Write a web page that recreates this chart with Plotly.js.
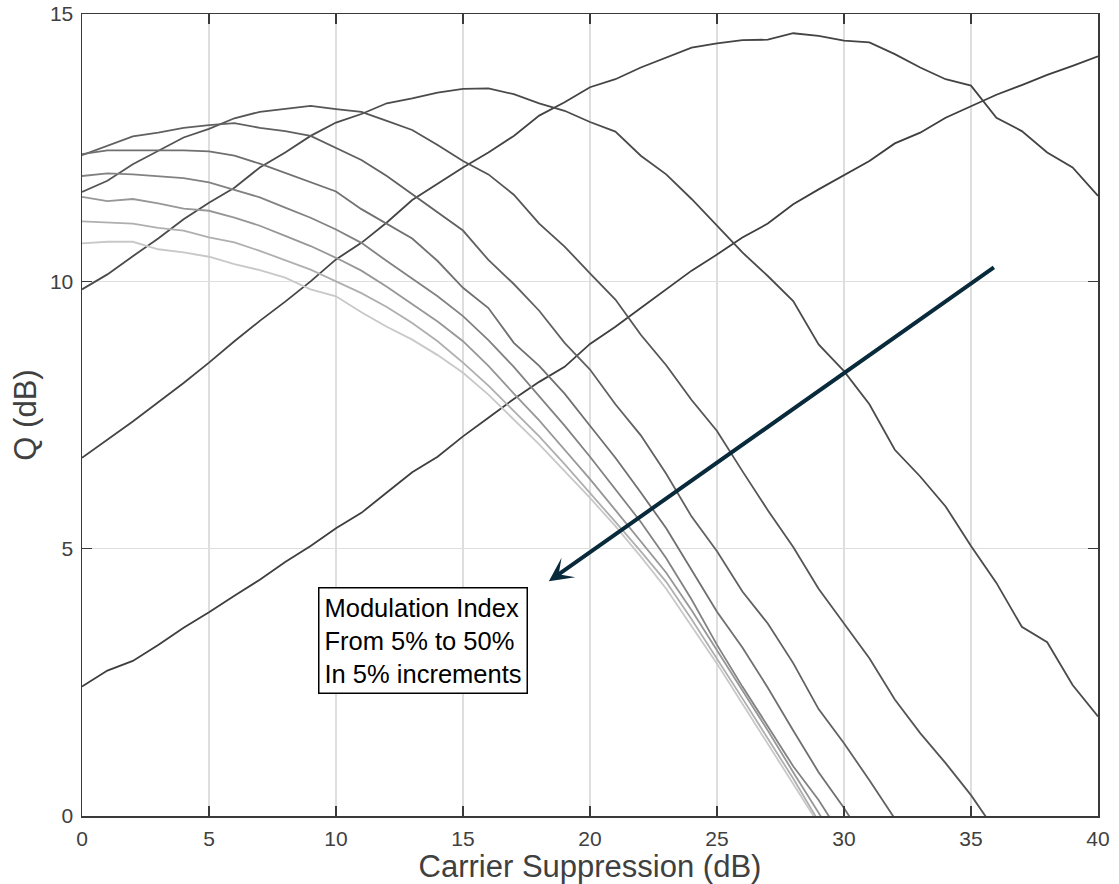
<!DOCTYPE html>
<html>
<head>
<meta charset="utf-8">
<script src="https://cdn.plot.ly/plotly-3.0.1.min.js"></script>
<style>
  html, body { margin: 0; padding: 0; background: #ffffff; }
  #chart { width: 1119px; height: 884px; }
</style>
</head>
<body>
<div id="chart"></div>
<script>
// Carrier suppression sweep (dB)
const carrierSuppressionDb = [0, 1, 2, 3, 4, 5, 6, 7, 8, 9, 10, 11, 12, 13, 14, 15, 16, 17, 18, 19, 20,
  21, 22, 23, 24, 25, 26, 27, 28, 29, 30, 31, 32, 33, 34, 35, 36, 37, 38, 39, 40];

// Q factor (dB) for each modulation index
const q05 = [2.42, 2.72, 2.90, 3.20, 3.52, 3.81, 4.12, 4.42, 4.75, 5.05, 5.38, 5.67, 6.05, 6.43, 6.72, 7.10, 7.45, 7.80, 8.12, 8.40, 8.83,
  9.15, 9.50, 9.85, 10.20, 10.50, 10.82, 11.08, 11.44, 11.72, 11.99, 12.25, 12.58, 12.78, 13.06, 13.28, 13.49, 13.67, 13.86, 14.03, 14.21];
const q10 = [6.70, 7.04, 7.38, 7.74, 8.10, 8.48, 8.88, 9.26, 9.62, 10.00, 10.41, 10.72, 11.10, 11.52, 11.82, 12.13, 12.41, 12.72, 13.10, 13.35, 13.63,
  13.78, 14.00, 14.19, 14.37, 14.45, 14.51, 14.52, 14.64, 14.59, 14.50, 14.47, 14.25, 14.00, 13.78, 13.66, 13.06, 12.81, 12.41, 12.13, 11.60];
const q15 = [9.85, 10.13, 10.47, 10.80, 11.16, 11.47, 11.75, 12.13, 12.41, 12.72, 12.97, 13.13, 13.33, 13.42, 13.53, 13.60, 13.61, 13.50, 13.33, 13.19, 12.98,
  12.80, 12.35, 12.00, 11.54, 11.04, 10.54, 10.10, 9.63, 8.82, 8.32, 7.70, 6.85, 6.35, 5.79, 5.05, 4.36, 3.54, 3.25, 2.45, 1.86];
const q20 = [11.67, 11.88, 12.19, 12.44, 12.69, 12.85, 13.05, 13.17, 13.23, 13.28, 13.22, 13.17, 13.00, 12.83, 12.55, 12.25, 12.00, 11.62, 11.08, 10.65, 10.15,
  9.66, 9.00, 8.43, 7.78, 7.20, 6.45, 5.72, 5.03, 4.25, 3.60, 2.95, 2.18, 1.55, 0.99, 0.39, -0.30];
const q25 = [12.36, 12.53, 12.71, 12.78, 12.87, 12.92, 12.96, 12.87, 12.81, 12.72, 12.50, 12.27, 11.97, 11.63, 11.29, 10.95, 10.40, 9.95, 9.45, 8.85, 8.35,
  7.70, 7.12, 6.40, 5.60, 4.95, 4.20, 3.60, 2.86, 2.00, 1.36, 0.67, -0.05];
const q30 = [12.38, 12.45, 12.45, 12.45, 12.45, 12.43, 12.35, 12.20, 12.03, 11.85, 11.68, 11.35, 11.08, 10.80, 10.38, 9.88, 9.50, 8.85, 8.42, 7.90, 7.30,
  6.70, 6.05, 5.38, 4.60, 3.82, 3.15, 2.40, 1.60, 0.82, 0.15, -0.60];
const q35 = [11.97, 12.02, 12.00, 11.97, 11.93, 11.85, 11.71, 11.57, 11.38, 11.19, 10.97, 10.72, 10.38, 10.05, 9.72, 9.35, 8.90, 8.40, 7.85, 7.30, 6.72,
  6.12, 5.50, 4.82, 4.05, 3.20, 2.42, 1.68, 0.93, 0.30, -0.45];
const q40 = [11.58, 11.50, 11.54, 11.46, 11.36, 11.32, 11.19, 11.04, 10.85, 10.66, 10.44, 10.20, 9.90, 9.58, 9.25, 8.88, 8.42, 7.90, 7.40, 6.85, 6.30,
  5.72, 5.13, 4.55, 3.85, 3.10, 2.35, 1.60, 0.82, 0.07, -0.70];
const q45 = [11.12, 11.10, 11.08, 11.00, 10.95, 10.82, 10.73, 10.57, 10.40, 10.22, 10.00, 9.78, 9.52, 9.22, 8.88, 8.48, 8.05, 7.58, 7.10, 6.58, 6.05,
  5.50, 4.95, 4.38, 3.68, 2.95, 2.20, 1.45, 0.70, -0.10];
const q50 = [10.71, 10.74, 10.74, 10.60, 10.54, 10.46, 10.32, 10.21, 10.07, 9.85, 9.72, 9.42, 9.15, 8.91, 8.62, 8.29, 7.88, 7.42, 6.95, 6.45, 5.95,
  5.42, 4.85, 4.25, 3.55, 2.85, 2.10, 1.35, 0.60, -0.15];

const modulationIndex = ['5%', '10%', '15%', '20%', '25%', '30%', '35%', '40%', '45%', '50%'];
const qSeries = [q05, q10, q15, q20, q25, q30, q35, q40, q45, q50];

// Grey ramp: darkest for the smallest modulation index
const lineGreys = ['#3e3e3e', '#444444', '#4b4b4b', '#555555', '#616161', '#707070', '#828282', '#979797', '#afafaf', '#c8c8c8'];

const traces = qSeries.map((q, i) => ({
  type: 'scatter',
  mode: 'lines',
  name: modulationIndex[i],
  x: carrierSuppressionDb.slice(0, q.length),
  y: q,
  line: { color: lineGreys[i], width: 1.8 },
  hoverinfo: 'skip'
}));

const fontFamily = 'Liberation Sans, Arial, Helvetica, sans-serif';
const axisFont = { family: fontFamily, size: 21, color: '#404040' };
const titleFont = { family: fontFamily, size: 31, color: '#404040' };

const commonAxis = {
  showline: true,
  linecolor: '#3a3a3a',
  linewidth: 1.5,
  mirror: 'ticks',
  ticks: 'inside',
  ticklen: 10,
  tickwidth: 1.5,
  tickcolor: '#3a3a3a',
  ticklabelstandoff: 3,
  showgrid: true,
  gridcolor: '#dedede',
  gridwidth: 1.5,
  zeroline: false,
  tickfont: axisFont,
  fixedrange: true
};

const layout = {
  width: 1119,
  height: 884,
  margin: { l: 82, r: 21, t: 14, b: 68 },
  paper_bgcolor: '#ffffff',
  plot_bgcolor: '#ffffff',
  showlegend: false,
  xaxis: Object.assign({}, commonAxis, {
    range: [0, 40],
    tick0: 0,
    dtick: 5,
    title: { text: 'Carrier Suppression (dB)', font: titleFont, standoff: 2 }
  }),
  yaxis: Object.assign({}, commonAxis, {
    range: [0, 15],
    tick0: 0,
    dtick: 5,
    title: { text: 'Q (dB)', font: titleFont, standoff: 4 }
  }),
  annotations: [
    {
      xref: 'x', yref: 'y', axref: 'x', ayref: 'y',
      x: 18.38, y: 4.39,
      ax: 35.96, ay: 10.28,
      text: '',
      showarrow: true,
      arrowhead: 3,
      arrowsize: 1,
      arrowwidth: 4,
      arrowcolor: '#082a3a',
      standoff: 0
    },
    {
      xref: 'x', yref: 'y',
      x: 9.3, y: 4.29,
      xanchor: 'left', yanchor: 'top',
      text: 'Modulation Index<br>From 5% to 50%<br>In 5% increments',
      align: 'left',
      showarrow: false,
      font: { family: fontFamily, size: 25.5, color: '#000000' },
      bgcolor: '#ffffff',
      bordercolor: '#000000',
      borderwidth: 1.5,
      borderpad: 5
    }
  ]
};

Plotly.newPlot('chart', traces, layout, { displayModeBar: false, staticPlot: true });
</script>
</body>
</html>
